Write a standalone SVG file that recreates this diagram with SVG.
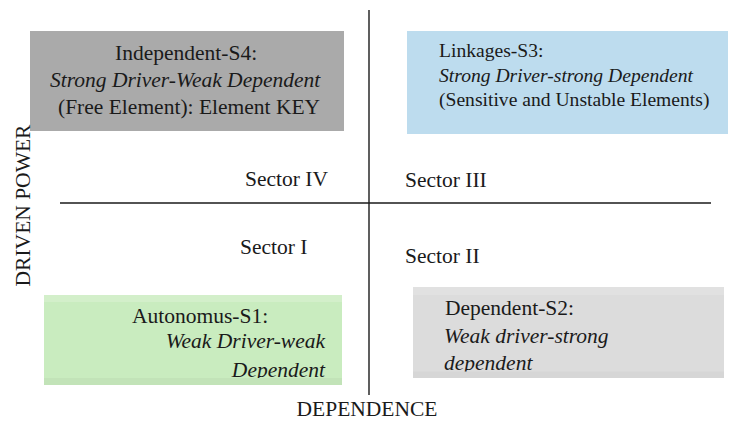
<svg xmlns="http://www.w3.org/2000/svg" width="729" height="421" viewBox="0 0 729 421">
<style>
  text { font-family: "Liberation Serif", "Times New Roman", serif; fill: #1a1a1a; }
  .lbl { font-size: 21.5px; }
  .box { font-size: 21.5px; }
  .s3 { font-size: 19.6px; }
  .it { font-style: italic; }
  .axis { stroke: #1a1a1a; stroke-width: 1.4; fill: none; }
</style>
<defs>
  <clipPath id="clipS1"><rect x="44" y="295" width="298" height="83"/></clipPath>
  <clipPath id="clipS2"><rect x="413" y="287" width="311" height="84.5"/></clipPath>
</defs>
<rect width="729" height="421" fill="#ffffff"/>

<g id="connectors">
  <line class="axis" x1="369" y1="10" x2="369" y2="395"/>
  <line class="axis" x1="60" y1="203" x2="711" y2="203"/>
</g>

<g id="node-s4">
  <rect x="30" y="31" width="314" height="100" fill="#aaaaaa"/>
  <text class="box" x="115" y="60">Independent-S4:</text>
  <text class="box it" x="50" y="87">Strong Driver-Weak Dependent</text>
  <text class="box" x="58" y="114">(Free Element): Element KEY</text>
</g>

<g id="node-s3">
  <rect x="407" y="31" width="321" height="103" fill="#bddcee"/>
  <text class="s3" x="439" y="57">Linkages-S3:</text>
  <text class="s3 it" x="439" y="82">Strong Driver-strong Dependent</text>
  <text class="s3" x="439" y="106">(Sensitive and Unstable Elements)</text>
</g>

<g id="node-s1">
  <rect x="44" y="295" width="298" height="90" fill="#c9ecbf"/>
  <rect x="44" y="295" width="298" height="7" fill="#d3efca"/>
  <rect x="44" y="378" width="298" height="7" fill="#c2e3b8"/>
  <g clip-path="url(#clipS1)">
    <text class="box" x="132" y="323">Autonomus-S1:</text>
    <text class="box it" x="325" y="348" text-anchor="end">Weak Driver-weak</text>
    <text class="box it" x="325" y="377" text-anchor="end">Dependent</text>
  </g>
</g>

<g id="node-s2">
  <rect x="413" y="287" width="311" height="91" fill="#dcdcdc"/>
  <rect x="413" y="287" width="311" height="8" fill="#e1e1e1"/>
  <rect x="413" y="371.5" width="311" height="6.5" fill="#d6d6d6"/>
  <g clip-path="url(#clipS2)">
    <text class="box" x="445" y="315">Dependent-S2:</text>
    <text class="box it" x="444" y="343">Weak driver-strong</text>
    <text class="box it" x="444" y="370">dependent</text>
  </g>
</g>

<g id="sectors">
  <text class="lbl" x="245" y="186">Sector IV</text>
  <text class="lbl" x="405" y="187">Sector III</text>
  <text class="lbl" x="240" y="254">Sector I</text>
  <text class="lbl" x="405" y="263">Sector II</text>
</g>

<g id="axis-labels">
  <text class="lbl" x="367" y="416" text-anchor="middle">DEPENDENCE</text>
  <text class="lbl" transform="translate(30,205.5) rotate(-90)" text-anchor="middle">DRIVEN POWER</text>
</g>
</svg>
